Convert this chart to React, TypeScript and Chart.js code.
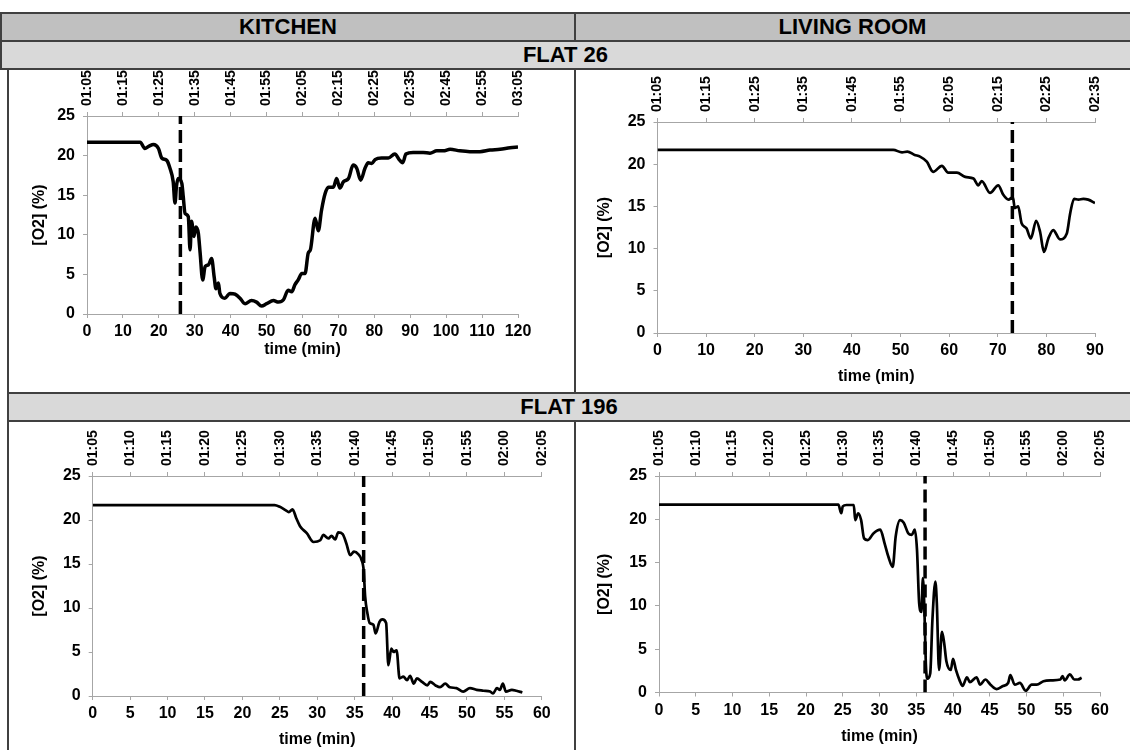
import React, { useEffect, useRef } from "react";
import { Chart, registerables } from "chart.js";

Chart.register(...registerables);

// ---------- DATA ----------
const columnHeaders = ["KITCHEN", "LIVING ROOM"];
const flatHeaders = ["FLAT 26", "FLAT 196"];
const yAxisTitle = "[O2] (%)";
const xAxisTitle = "time (min)";

const flat26KitchenClock = ["01:05", "01:15", "01:25", "01:35", "01:45", "01:55", "02:05", "02:15", "02:25", "02:35", "02:45", "02:55", "03:05"];
const flat26LivingClock = ["01:05", "01:15", "01:25", "01:35", "01:45", "01:55", "02:05", "02:15", "02:25", "02:35"];
const flat196Clock = ["01:05", "01:10", "01:15", "01:20", "01:25", "01:30", "01:35", "01:40", "01:45", "01:50", "01:55", "02:00", "02:05"];

const kitchen26Time = [0, 14.8, 16.1, 17.3, 18.5, 19.9, 20.8, 22.2, 23.1, 24.0, 24.5, 24.9, 25.4, 26.4, 26.8, 27.3, 28.2, 28.7, 29.1, 29.8, 30.3, 31.0, 31.5, 32.2, 32.9, 33.8, 34.7, 35.4, 35.9, 36.6, 37.0, 38.4, 39.8, 41.2, 42.6, 44.0, 45.8, 47.2, 48.6, 50.0, 51.9, 53.3, 54.7, 56.0, 57.0, 57.9, 58.8, 59.8, 60.7, 61.6, 62.2, 63.5, 64.4, 65.3, 66.3, 67.2, 68.6, 69.5, 70.4, 71.4, 72.8, 74.1, 75.1, 76.2, 77.4, 78.3, 79.3, 80.2, 82.0, 83.9, 85.7, 87.1, 87.9, 88.8, 90.8, 93.6, 95.5, 97.4, 99.2, 101.1, 103.8, 106.6, 109.4, 112.2, 115.0, 117.8, 120];
const kitchen26O2 = [21.7, 21.7, 20.9, 21.2, 21.4, 20.9, 19.7, 19.4, 18.4, 16.7, 14.0, 16.1, 17.1, 16.5, 14.8, 12.7, 12.3, 8.1, 11.7, 9.8, 11.0, 10.2, 7.7, 4.3, 6.0, 6.2, 7.0, 4.7, 3.2, 3.9, 2.6, 2.0, 2.6, 2.5, 2.0, 1.3, 1.7, 1.5, 1.0, 1.3, 1.7, 1.5, 1.8, 3.0, 2.8, 3.7, 4.3, 5.1, 5.1, 7.7, 8.1, 12.1, 10.5, 13.1, 15.2, 16.0, 16.0, 17.1, 15.9, 16.7, 17.1, 18.8, 18.4, 16.9, 18.4, 19.1, 19.0, 19.5, 19.7, 19.7, 20.2, 19.4, 19.1, 20.2, 20.4, 20.4, 20.3, 20.6, 20.6, 20.8, 20.6, 20.5, 20.5, 20.7, 20.8, 21.0, 21.1];
const kitchen26Marker = 26;

const living26Time = [0, 48.5, 50.3, 51.4, 52.9, 54.0, 55.4, 56.7, 58.5, 59.8, 61.6, 63.3, 65.0, 66.0, 66.7, 68.4, 70.1, 71.1, 72.2, 73.1, 73.5, 74.2, 74.9, 75.9, 76.8, 77.9, 78.7, 79.5, 80.4, 81.4, 82.8, 84.2, 84.9, 85.7, 86.6, 87.6, 88.6, 90];
const living26O2 = [21.7, 21.7, 21.4, 21.5, 21.1, 20.9, 20.3, 19.1, 19.8, 19.0, 19.0, 18.5, 18.3, 17.5, 18.0, 16.6, 17.5, 16.4, 15.8, 16.1, 14.8, 15.0, 13.0, 12.4, 11.2, 13.3, 12.0, 9.6, 11.2, 12.2, 11.1, 11.8, 14.2, 15.9, 15.8, 15.9, 15.8, 15.4];
const living26Marker = 73;

const kitchen196Time = [0, 24.3, 25.0, 25.8, 26.2, 26.7, 27.2, 27.7, 28.6, 29.5, 30.4, 30.8, 31.5, 31.9, 32.4, 32.8, 33.4, 33.9, 34.4, 34.9, 35.5, 35.9, 36.2, 36.4, 36.7, 37.0, 37.5, 37.8, 38.3, 38.7, 39.2, 39.5, 39.9, 40.2, 40.6, 41.0, 41.5, 42.0, 42.4, 42.9, 43.3, 44.0, 44.7, 45.1, 45.8, 46.4, 47.1, 47.7, 48.6, 49.5, 50.4, 51.3, 52.2, 53.1, 53.5, 54.0, 54.4, 54.8, 55.2, 56.0, 56.6, 57.4];
const kitchen196O2 = [21.7, 21.7, 21.5, 21.1, 20.9, 21.2, 20.2, 19.3, 18.5, 17.5, 17.7, 18.3, 17.9, 18.2, 17.8, 18.6, 18.4, 17.3, 16.0, 16.4, 16.1, 15.5, 14.3, 11.3, 9.4, 8.3, 8.1, 7.1, 8.4, 8.7, 8.3, 3.5, 5.4, 5.0, 5.2, 2.0, 2.2, 1.8, 2.3, 1.4, 2.0, 1.6, 1.2, 1.6, 1.2, 1.0, 1.4, 1.0, 0.9, 0.5, 0.9, 0.7, 0.6, 0.5, 0.3, 0.9, 0.7, 1.4, 0.5, 0.7, 0.6, 0.4];
const kitchen196Marker = 36.2;

const living196Time = [0, 24.4, 24.8, 25.0, 25.5, 26.5, 26.7, 27.1, 27.5, 27.9, 28.4, 29.2, 30.1, 30.7, 31.2, 31.8, 32.2, 32.8, 33.3, 33.9, 34.4, 34.8, 35.1, 35.4, 35.7, 35.9, 36.1, 36.3, 36.5, 36.9, 37.2, 37.6, 37.8, 38.1, 38.5, 38.8, 39.1, 39.7, 40.0, 40.4, 40.9, 41.3, 41.9, 42.3, 43.2, 43.7, 44.4, 45.1, 45.9, 46.8, 47.5, 47.8, 48.4, 49.1, 49.9, 50.7, 51.4, 52.3, 53.4, 54.6, 54.9, 55.2, 55.9, 56.5, 57.0, 57.5];
const living196O2 = [21.7, 21.7, 20.7, 21.5, 21.65, 21.65, 19.9, 20.7, 19.9, 17.8, 17.6, 18.4, 18.8, 17.2, 15.7, 14.5, 18.0, 19.9, 19.6, 18.4, 18.2, 18.8, 16.5, 10.3, 9.3, 13.2, 9.9, 3.4, 1.6, 2.2, 8.4, 12.8, 10.3, 2.6, 7.0, 5.7, 3.6, 2.6, 3.9, 2.6, 1.4, 0.75, 1.75, 1.2, 1.75, 0.9, 1.5, 0.9, 0.4, 0.75, 1.1, 2.0, 0.9, 1.1, 0.2, 0.9, 0.9, 1.3, 1.4, 1.5, 1.9, 1.4, 2.1, 1.5, 1.5, 1.7];
const living196Marker = 36.2;

// ---------- LAYOUT / STYLE ----------
const FONT = "'Liberation Sans', Arial, Helvetica, sans-serif";
const AXIS_GRAY = "#a6a6a6";
const TICK_SIZE = 16;
const CLOCK_SIZE = 14;

type Panel = {
  times: number[];
  values: number[];
  marker: number;
  clock: string[];
  xMax: number;
  step: number;
  lineWidth: number;
  left: number;
  top: number;
  width: number;
  height: number;
  yAxisW: number;
  topH: number;
  xAxisH: number;
  padRight: number;
  yTitlePad: number;
  xTitlePad: number;
};

const panels: Panel[] = [
  { times: kitchen26Time, values: kitchen26O2, marker: kitchen26Marker, clock: flat26KitchenClock, xMax: 120, step: 10, lineWidth: 3.5,
    left: 9, top: 70, width: 538, height: 322, yAxisW: 78, topH: 46, xAxisH: 78, padRight: 29, yTitlePad: 21, xTitlePad: 33 },
  { times: living26Time, values: living26O2, marker: living26Marker, clock: flat26LivingClock, xMax: 90, step: 10, lineWidth: 2.7,
    left: 577, top: 70, width: 543, height: 322, yAxisW: 80.5, topH: 52, xAxisH: 59, padRight: 25, yTitlePad: 18, xTitlePad: 6 },
  { times: kitchen196Time, values: kitchen196O2, marker: kitchen196Marker, clock: flat196Clock, xMax: 60, step: 5, lineWidth: 2.7,
    left: 9, top: 422, width: 558, height: 328, yAxisW: 83.7, topH: 54, xAxisH: 54, padRight: 25.2, yTitlePad: 21, xTitlePad: 1 },
  { times: living196Time, values: living196O2, marker: living196Marker, clock: flat196Clock, xMax: 60, step: 5, lineWidth: 2.7,
    left: 577, top: 422, width: 548, height: 328, yAxisW: 82, topH: 54, xAxisH: 57.5, padRight: 25, yTitlePad: 18, xTitlePad: 4 },
];

function O2Chart({ p }: { p: Panel }) {
  const ref = useRef<HTMLCanvasElement>(null);
  useEffect(() => {
    if (!ref.current) return;
    const tickFont = { family: FONT, size: TICK_SIZE, weight: "bold" as const };
    const clockFont = { family: FONT, size: CLOCK_SIZE, weight: "bold" as const };
    const chart = new Chart(ref.current, {
      type: "line",
      data: {
        datasets: [
          {
            data: p.times.map((t, i) => ({ x: t, y: p.values[i] })),
            borderColor: "#000",
            borderWidth: p.lineWidth,
            pointRadius: 0,
            cubicInterpolationMode: "monotone",
            fill: false,
            borderJoinStyle: "round",
          },
          {
            data: [{ x: p.marker, y: 0 }, { x: p.marker, y: 25 }],
            borderColor: "#000",
            borderWidth: 3.5,
            borderDash: [13, 6],
            pointRadius: 0,
            fill: false,
          },
        ],
      },
      options: {
        responsive: false,
        animation: false,
        devicePixelRatio: 1,
        layout: { padding: { left: 0, top: 0, right: p.padRight, bottom: 0 } },
        plugins: { legend: { display: false }, tooltip: { enabled: false } },
        scales: {
          x: {
            type: "linear",
            position: "bottom",
            min: 0,
            max: p.xMax,
            ticks: { stepSize: p.step, font: tickFont, color: "#000", padding: 4, maxRotation: 0, autoSkip: false },
            grid: { drawOnChartArea: false, color: AXIS_GRAY, tickLength: 4 },
            border: { color: AXIS_GRAY, width: 1 },
            title: { display: true, text: xAxisTitle, font: tickFont, color: "#000", padding: { top: 0, bottom: p.xTitlePad } },
            afterFit: (s: any) => { s.height = p.xAxisH; },
          },
          x2: {
            type: "linear",
            position: "top",
            min: 0,
            max: p.xMax,
            ticks: {
              stepSize: p.step,
              font: clockFont,
              color: "#000",
              padding: 6,
              minRotation: 90,
              maxRotation: 90,
              autoSkip: false,
              labelOffset: CLOCK_SIZE * 1.2,
              callback: (_v: any, i: number) => p.clock[i],
            },
            grid: { drawOnChartArea: false, color: AXIS_GRAY, tickLength: 4 },
            border: { color: AXIS_GRAY, width: 1 },
            afterFit: (s: any) => { s.height = p.topH; },
          },
          y: {
            min: 0,
            max: 25,
            ticks: { stepSize: 5, font: tickFont, color: "#000", padding: 8 },
            grid: { drawOnChartArea: false, color: AXIS_GRAY, tickLength: 4 },
            border: { color: AXIS_GRAY, width: 1 },
            title: { display: true, text: yAxisTitle, font: tickFont, color: "#000", padding: { top: p.yTitlePad, bottom: 0 } },
            afterFit: (s: any) => { s.width = p.yAxisW; },
          },
        },
      },
    } as any);
    return () => chart.destroy();
  }, [p]);
  return (
    <canvas
      ref={ref}
      width={p.width}
      height={p.height}
      style={{ position: "absolute", left: p.left, top: p.top, width: p.width, height: p.height }}
    />
  );
}

const LINE = "#404040";

function Box(props: { l: number; t: number; w: number; h: number; bg?: string; text?: string }) {
  return (
    <div
      style={{
        position: "absolute",
        left: props.l,
        top: props.t,
        width: props.w,
        height: props.h,
        background: props.bg || "transparent",
        fontFamily: FONT,
        fontWeight: "bold",
        fontSize: 22,
        lineHeight: props.h + "px",
        textAlign: "center",
        color: "#000",
      }}
    >
      {props.text}
    </div>
  );
}

export default function App() {
  return (
    <div style={{ position: "absolute", left: 0, top: 0, width: 1130, height: 750, overflow: "hidden", background: "#fff" }}>
      {/* header row */}
      <Box l={1} t={13} w={574} h={28} bg="#c0c0c0" text={columnHeaders[0]} />
      <Box l={575} t={13} w={555} h={28} bg="#c0c0c0" text={columnHeaders[1]} />
      {/* flat rows */}
      <Box l={1} t={41} w={1129} h={28} bg="#d9d9d9" text={flatHeaders[0]} />
      <Box l={8} t={393} w={1122} h={28} bg="#d9d9d9" text={flatHeaders[1]} />
      {/* panels */}
      {panels.map((p, i) => (
        <O2Chart key={i} p={p} />
      ))}
      {/* horizontal lines */}
      <Box l={1} t={12} w={1129} h={2} bg={LINE} />
      <Box l={1} t={40} w={1129} h={2} bg={LINE} />
      <Box l={1} t={68} w={1129} h={2} bg={LINE} />
      <Box l={8} t={392} w={1122} h={2} bg={LINE} />
      <Box l={8} t={420} w={1122} h={2} bg={LINE} />
      {/* vertical lines */}
      <Box l={0} t={12} w={2} h={58} bg={LINE} />
      <Box l={7} t={68} w={2} h={682} bg={LINE} />
      <Box l={574} t={12} w={2} h={29} bg={LINE} />
      <Box l={574} t={68} w={2} h={326} bg={LINE} />
      <Box l={574} t={420} w={2} h={330} bg={LINE} />
    </div>
  );
}
